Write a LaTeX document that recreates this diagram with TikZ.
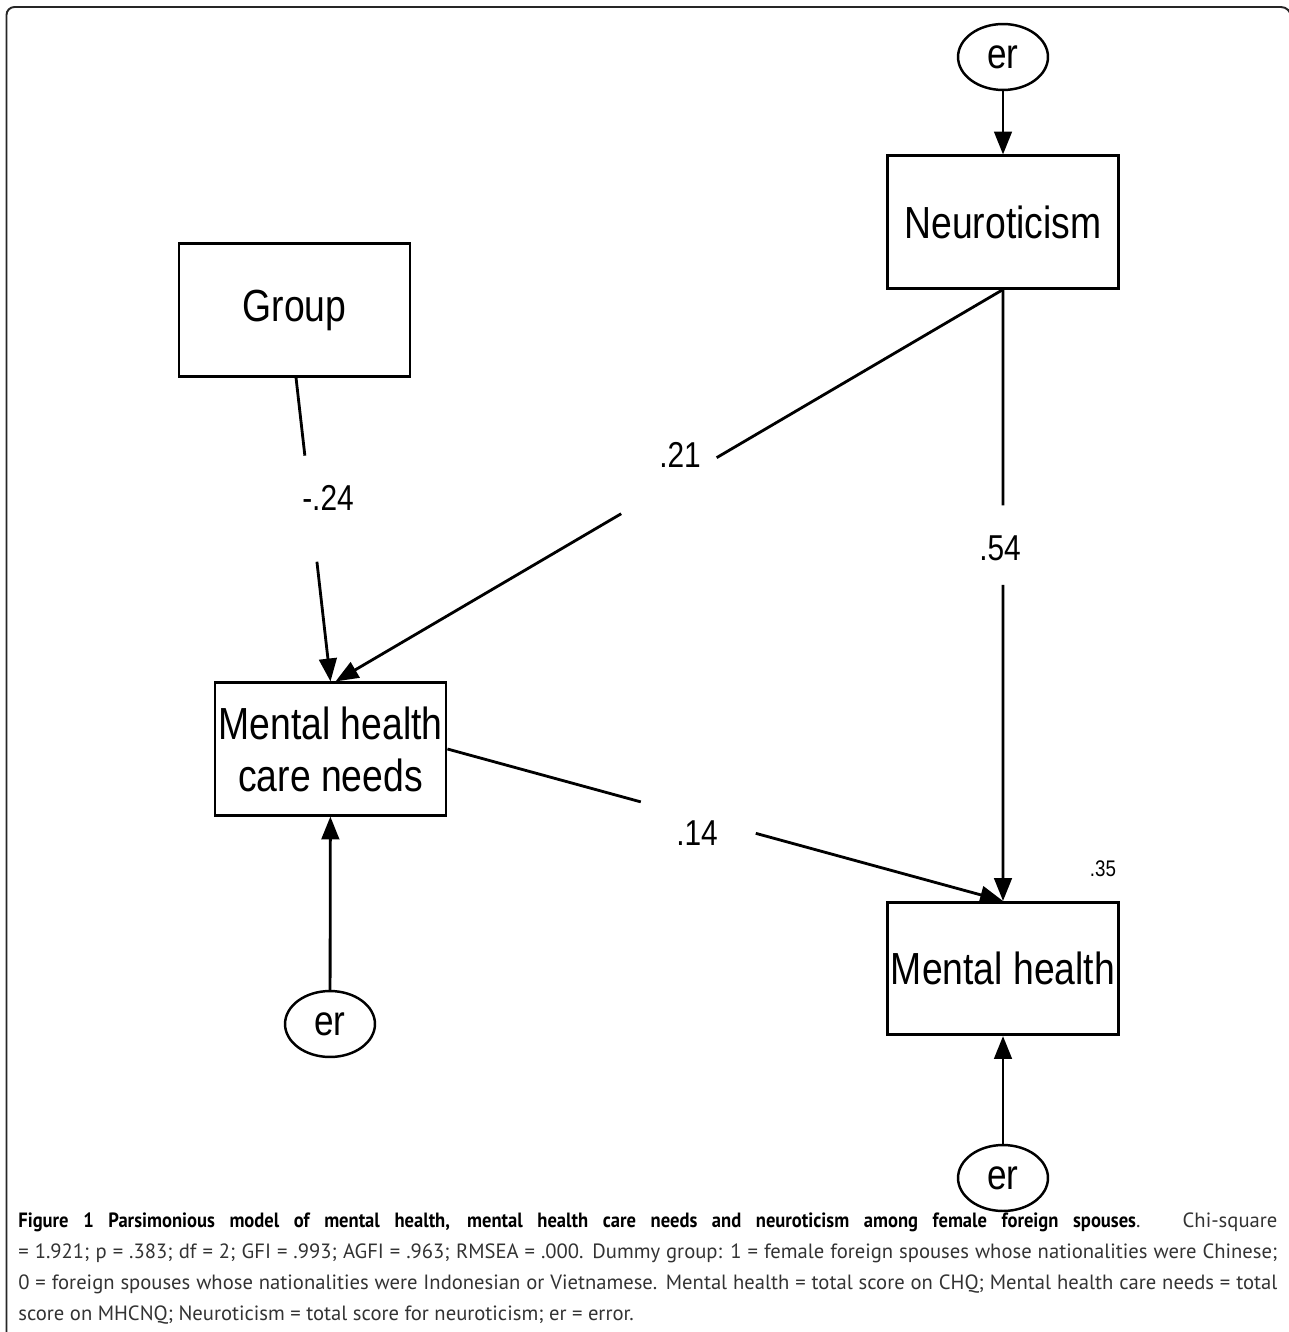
\documentclass[tikz,border=0pt]{standalone}
\usepackage{fontspec}
\usetikzlibrary{arrows.meta,calc,shapes.geometric}
\setmainfont{Liberation Sans}
\newfontfamily\diagfont[FakeStretch=0.83]{Liberation Sans}
\newfontfamily\capfont[BoldFeatures={FakeStretch=0.9}]{PT Sans}
\begin{document}
\begin{tikzpicture}[x=0.567pt,y=-0.567pt,
  varbox/.style={draw,line width=1.6pt,minimum width=131pt,minimum height=75pt,inner sep=0pt,
    align=center,font=\diagfont\fontsize{25.5}{29.5}\selectfont},
  errnode/.style={draw,ellipse,line width=1.4pt,minimum width=51pt,minimum height=37.4pt,inner sep=0pt,
    font=\diagfont\fontsize{24}{28}\selectfont},
  pathline/.style={line width=1.6pt},
  patharrow/.style={line width=1.6pt,-{Triangle[length=13pt,width=10pt]}},
  coef/.style={inner sep=0pt,font=\diagfont\fontsize{20.4}{24}\selectfont},
  rsq/.style={inner sep=0pt,font=\diagfont\fontsize{12.8}{15}\selectfont},
  capline/.style={anchor=base west,inner sep=0pt,font=\capfont\fontsize{11.7}{14}\selectfont,text=black!80}]
\useasboundingbox (0,0) rectangle (1289,1332);
\fill[white] (0,0) rectangle (1289,1332);
% frame
\draw[line width=1.1pt,black!85] (6.5,1340) -- (6.5,15) arc[start angle=180,end angle=90,x radius=8,y radius=-8] -- (1281,7)
  arc[start angle=90,end angle=0,x radius=10,y radius=-10] -- (1291,1340);

% nodes
\node[errnode] (erN) at (1003,57) {er};
\node[varbox] (neuro) at (1003,222) {Neuroticism};
\node[varbox] (group) at (294.5,310) {Group};
\node[varbox] (mhcn) at (330.5,749) {Mental health\\care needs};
\node[varbox] (mh) at (1003,968.5) {Mental health};
\node[errnode] (erL) at (330,1024) {er};
\node[errnode] (erR) at (1003,1178) {er};

% error arrows
\draw[patharrow] (erN) -- (neuro);
\draw[patharrow] (erL) -- (mhcn);
\draw[patharrow] (erR) -- (mh);

% Group -> MHCN
\coordinate (gS) at ($(group.south)+(1.5,0)$);
\coordinate (gT) at (mhcn.north);
\coordinate (g1) at ($(gS)!0.257!(gT)$);
\coordinate (g2) at ($(gS)!0.606!(gT)$);
\draw[pathline] (gS) -- (g1);
\draw[patharrow] (g2) -- (gT);
\node[coef] (cg) at (328,498) {-.24};

% Neuroticism -> MHCN
\coordinate (nT) at ($(mhcn.north)+(5,0)$);
\coordinate (n1) at ($(neuro.south)!0.429!(nT)$);
\coordinate (n2) at ($(neuro.south)!0.572!(nT)$);
\draw[pathline] (neuro.south) -- (n1);
\draw[patharrow] (n2) -- (nT);
\node[coef] (cn) at (680,455) {.21};

% Neuroticism -> MH
\coordinate (v1) at ($(neuro.south)!0.353!(mh.north)$);
\coordinate (v2) at ($(neuro.south)!0.483!(mh.north)$);
\draw[pathline] (neuro.south) -- (v1);
\draw[patharrow] (v2) -- (mh.north);
\node[coef] (cv) at (1000,548) {.54};

% MHCN -> MH
\coordinate (m1) at ($(mhcn.east)!0.348!(mh.north)$);
\coordinate (m2) at ($(mhcn.east)!0.555!(mh.north)$);
\draw[pathline] (mhcn.east) -- (m1);
\draw[patharrow] (m2) -- (mh.north);
\node[coef] (cm) at (697,833) {.14};

\node[rsq] (r2) at (1103,869) {.35};

% caption
\node[capline] (cap1) at (18,1227) {\makebox[1259\dimexpr0.567pt\relax][s]{\textcolor{black}{\bfseries Figure 1 Parsimonious model of mental health, mental health care needs and neuroticism among female foreign spouses}. Chi-square}};
\node[capline] (cap2) at (18,1258) {\makebox[1259\dimexpr0.567pt\relax][s]{= 1.921; p = .383; df = 2; GFI = .993; AGFI = .963; RMSEA = .000. Dummy group: 1 = female foreign spouses whose nationalities were Chinese;}};
\node[capline] (cap3) at (18,1289) {\makebox[1259\dimexpr0.567pt\relax][s]{0 = foreign spouses whose nationalities were Indonesian or Vietnamese. Mental health = total score on CHQ; Mental health care needs = total}};
\node[capline] (cap4) at (18,1320) {score on MHCNQ; Neuroticism = total score for neuroticism; er = error.};
\end{tikzpicture}
\end{document}
